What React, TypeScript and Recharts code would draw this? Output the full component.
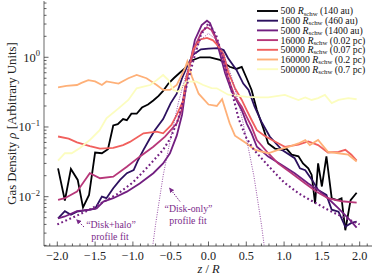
import React from 'react';
import { LineChart, Line, XAxis, YAxis } from 'recharts';

type P = [number, number];

// ---- data: [z/R, density] ----
const rho500: P[] = [
  [-1.99, 0.0255], [-1.9, 0.0088], [-1.82, 0.025], [-1.73, 0.0174], [-1.66, 0.007], [-1.58, 0.0106],
  [-1.5, 0.043], [-1.41, 0.042], [-1.33, 0.048], [-1.26, 0.105], [-1.2, 0.11], [-1.13, 0.13],
  [-1.08, 0.125], [-1.02, 0.155], [-0.95, 0.155], [-0.88, 0.19], [-0.8, 0.21], [-0.73, 0.24],
  [-0.66, 0.28], [-0.6, 0.33], [-0.53, 0.42], [-0.46, 0.5], [-0.38, 0.6], [-0.31, 0.7],
  [-0.22, 0.9], [-0.11, 1.0], [0.02, 1.0], [0.15, 0.92], [0.28, 0.73], [0.37, 0.68],
  [0.44, 0.73], [0.505, 0.5], [0.57, 0.34], [0.64, 0.175], [0.725, 0.096], [0.79, 0.058],
  [0.88, 0.049], [0.97, 0.047], [1.03, 0.049], [1.1, 0.04], [1.19, 0.038], [1.25, 0.03],
  [1.32, 0.0255], [1.365, 0.0205], [1.41, 0.008], [1.45, 0.03], [1.5, 0.014], [1.56, 0.038],
  [1.63, 0.0095], [1.7, 0.0089], [1.76, 0.0095], [1.81, 0.0033], [1.88, 0.0089], [1.96, 0.0114],
];
const rho1600: P[] = [
  [-1.99, 0.0049], [-1.9, 0.0062], [-1.82, 0.0055], [-1.74, 0.0061], [-1.57, 0.0065], [-1.5, 0.0067],
  [-1.41, 0.01], [-1.35, 0.0095], [-1.26, 0.0132], [-1.17, 0.0174], [-1.08, 0.0217], [-0.99, 0.024],
  [-0.93, 0.0336], [-0.86, 0.047], [-0.77, 0.07], [-0.71, 0.09], [-0.6, 0.13], [-0.5, 0.22],
  [-0.42, 0.3], [-0.35, 0.5], [-0.27, 0.8], [-0.2, 1.1], [-0.1, 1.3], [0.0, 1.33], [0.13, 1.35],
  [0.2, 1.27], [0.26, 0.97], [0.37, 0.66], [0.46, 0.42], [0.53, 0.34], [0.61, 0.195], [0.7, 0.119],
  [0.81, 0.073], [0.97, 0.047], [1.14, 0.0356], [1.21, 0.0255], [1.28, 0.024], [1.37, 0.0174],
  [1.45, 0.0125], [1.56, 0.0106], [1.63, 0.0065], [1.72, 0.0061], [1.81, 0.0037], [1.89, 0.0042],
  [1.96, 0.0044],
];
const rho5000: P[] = [
  [-1.99, 0.0049], [-1.9, 0.0052], [-1.74, 0.0062], [-1.57, 0.0065], [-1.48, 0.0068], [-1.39, 0.0085],
  [-1.26, 0.0095], [-1.08, 0.0118], [-0.91, 0.0155], [-0.73, 0.0217], [-0.6, 0.03], [-0.51, 0.042],
  [-0.42, 0.075], [-0.35, 0.15], [-0.27, 0.6], [-0.18, 1.77], [-0.09, 2.9], [-0.02, 3.35],
  [0.02, 3.1], [0.09, 1.97], [0.15, 1.14], [0.22, 0.59], [0.31, 0.32], [0.39, 0.22], [0.44, 0.175],
  [0.505, 0.113], [0.57, 0.081], [0.64, 0.052], [0.79, 0.0376], [0.97, 0.0285], [1.14, 0.0217],
  [1.32, 0.0155], [1.45, 0.0125], [1.58, 0.0095], [1.72, 0.0068], [1.85, 0.0049], [1.96, 0.0036],
];
const rho16000: P[] = [
  [-1.99, 0.009], [-1.9, 0.0095], [-1.74, 0.0118], [-1.57, 0.0217], [-1.435, 0.0184], [-1.26, 0.0194],
  [-1.08, 0.0269], [-0.91, 0.0375], [-0.73, 0.052], [-0.575, 0.0726], [-0.42, 0.113], [-0.355, 0.175],
  [-0.29, 0.53], [-0.18, 1.42], [-0.09, 2.33], [-0.02, 2.69], [0.04, 2.46], [0.13, 1.59], [0.2, 0.915],
  [0.26, 0.5], [0.35, 0.27], [0.44, 0.195], [0.505, 0.14], [0.57, 0.101], [0.64, 0.065], [0.79, 0.042],
  [0.92, 0.03], [1.1, 0.0217], [1.28, 0.0155], [1.43, 0.0118], [1.58, 0.0095], [1.76, 0.0086],
  [1.96, 0.0082],
];
const rho50000: P[] = [
  [-1.99, 0.073], [-1.85, 0.068], [-1.74, 0.06], [-1.57, 0.053], [-1.435, 0.049], [-1.26, 0.05],
  [-1.13, 0.055], [-1.04, 0.061], [-0.86, 0.081], [-0.685, 0.086], [-0.6, 0.081], [-0.49, 0.107],
  [-0.42, 0.149], [-0.33, 0.244], [-0.29, 0.5], [-0.2, 1.3], [-0.11, 1.8], [-0.02, 1.9], [0.06, 1.75],
  [0.13, 1.45], [0.2, 1.1], [0.26, 0.62], [0.35, 0.36], [0.44, 0.244], [0.505, 0.175], [0.57, 0.126],
  [0.64, 0.09], [0.74, 0.075], [0.84, 0.065], [1.01, 0.052], [1.19, 0.056], [1.32, 0.062],
  [1.45, 0.055], [1.58, 0.043], [1.72, 0.044], [1.81, 0.047], [1.89, 0.04], [1.96, 0.033],
];
const rho160000: P[] = [
  [-1.99, 0.37], [-1.88, 0.39], [-1.74, 0.4], [-1.68, 0.43], [-1.59, 0.47], [-1.5, 0.45], [-1.41, 0.4],
  [-1.35, 0.45], [-1.19, 0.42], [-1.06, 0.5], [-0.95, 0.557], [-0.82, 0.5], [-0.685, 0.4], [-0.6, 0.34],
  [-0.51, 0.34], [-0.42, 0.4], [-0.31, 0.7], [-0.28, 0.87], [-0.22, 0.53], [-0.13, 0.3], [0.0, 0.21],
  [0.11, 0.2], [0.18, 0.25], [0.28, 0.113], [0.35, 0.075], [0.505, 0.058], [0.615, 0.047], [0.79, 0.042],
  [0.92, 0.047], [1.06, 0.052], [1.19, 0.058], [1.28, 0.065], [1.34, 0.055], [1.45, 0.065], [1.58, 0.044],
  [1.72, 0.042], [1.85, 0.04], [1.96, 0.032],
];
const rho500000: P[] = [
  [-1.99, 0.033], [-1.9, 0.042], [-1.81, 0.042], [-1.7, 0.05], [-1.57, 0.065], [-1.44, 0.09],
  [-1.35, 0.133], [-1.19, 0.185], [-1.06, 0.244], [-0.95, 0.359], [-0.86, 0.38], [-0.77, 0.4],
  [-0.685, 0.47], [-0.6, 0.557], [-0.53, 0.47], [-0.465, 0.34], [-0.4, 0.32], [-0.29, 0.447],
  [-0.16, 0.447], [-0.07, 0.4], [0.04, 0.36], [0.11, 0.359], [0.26, 0.29], [0.505, 0.27], [0.68, 0.266],
  [0.79, 0.266], [1.01, 0.288], [1.19, 0.244], [1.28, 0.266], [1.365, 0.244], [1.45, 0.26], [1.54, 0.288],
  [1.63, 0.22], [1.72, 0.244], [1.85, 0.26], [1.96, 0.25],
];
const fitDiskHalo: P[] = [
  [-2.0, 0.004], [-1.8, 0.005], [-1.6, 0.0063], [-1.4, 0.0083], [-1.2, 0.011], [-1.0, 0.016],
  [-0.8, 0.027], [-0.6, 0.047], [-0.5, 0.07], [-0.4, 0.13], [-0.3, 0.35], [-0.2, 0.9], [-0.1, 2.1],
  [0.0, 3.1], [0.1, 2.1], [0.2, 0.9], [0.3, 0.35], [0.4, 0.13], [0.5, 0.07], [0.6, 0.047], [0.8, 0.027],
  [1.0, 0.016], [1.2, 0.011], [1.4, 0.0083], [1.6, 0.0063], [1.8, 0.005], [2.0, 0.004],
];
const fitDiskOnly: P[] = [
  [-0.8, 0.0006], [-0.7, 0.004], [-0.6, 0.02], [-0.5, 0.07], [-0.4, 0.22], [-0.3, 0.55], [-0.2, 1.1],
  [-0.1, 1.8], [0.0, 2.2], [0.1, 1.8], [0.2, 1.1], [0.3, 0.55], [0.4, 0.22], [0.5, 0.07], [0.6, 0.02],
  [0.7, 0.004], [0.8, 0.0006],
];

const seriesNumbers = ['500', '1600', '5000', '16000', '50000', '160000', '500000'];
const seriesScales = ['(140 au)', '(460 au)', '(1400 au)', '(0.02 pc)', '(0.07 pc)', '(0.2 pc)', '(0.7 pc)'];
const seriesColors = ['#000004', '#2c115f', '#721f81', '#b73779', '#f1605d', '#feb078', '#fcfdbf'];
const seriesData = [rho500, rho1600, rho5000, rho16000, rho50000, rho160000, rho500000];

const xMajorTicks = [-2, -1.5, -1, -0.5, 0, 0.5, 1, 1.5, 2];
const yMajorTicks = [0.01, 0.1, 1];
const yTickExponents = ['−2', '−1', '0'];

// ---- layout ----
const W = 374;
const H = 276;
const X_DOMAIN: [number, number] = [-2.176, 2.163];
const Y_DOMAIN: [number, number] = [0.00196, 6.42];
const FRAME = '#8c8c8c';
const TICK = '#3a3a3a';
const FONT = "'Liberation Serif', 'Times New Roman', serif";
const ANNOT = '#7b2b8a';

const xTicks: number[] = [];
for (let i = -21; i <= 21; i++) xTicks.push(i / 10);
const yTicks: number[] = [];
for (let e = -3; e <= 0; e++) for (let m = 1; m <= 9; m++) {
  const v = m * Math.pow(10, e);
  if (v >= Y_DOMAIN[0] && v <= Y_DOMAIN[1]) yTicks.push(Number(v.toPrecision(3)));
}

const isMajorX = (v: number) => xMajorTicks.some((t) => Math.abs(t - v) < 1e-6);
const isMajorY = (v: number) => yMajorTicks.some((t) => Math.abs(t - v) / t < 1e-6);
const fmtX = (v: number) => (v < -1e-9 ? '−' : '') + Math.abs(v).toFixed(1);

const toRows = (pts: P[]) => pts.map(([z, rho]) => ({ z, rho }));

const XTickBottom = (p: any) => {
  const v = p.payload.value;
  const major = isMajorX(v);
  return (
    <g>
      <line x1={p.x} x2={p.x} y1={p.y} y2={p.y - (major ? 4.5 : 2.5)} stroke={TICK} strokeWidth={0.8} />
      {major && (
        <text x={p.x} y={p.y + 14} textAnchor="middle" fontFamily={FONT} fontSize={12.2} fill="#222">
          {fmtX(v)}
        </text>
      )}
    </g>
  );
};
const XTickTop = (p: any) => {
  const v = p.payload.value;
  const major = isMajorX(v);
  return <line x1={p.x} x2={p.x} y1={p.y} y2={p.y + (major ? 4.5 : 2.5)} stroke={TICK} strokeWidth={0.8} />;
};
const YTickLeft = (p: any) => {
  const v = p.payload.value;
  const major = isMajorY(v);
  const idx = yMajorTicks.findIndex((t) => Math.abs(t - v) / t < 1e-6);
  return (
    <g>
      <line x1={p.x} x2={p.x + (major ? 4.5 : 2.5)} y1={p.y} y2={p.y} stroke={TICK} strokeWidth={0.8} />
      {major && (
        <text x={p.x - 4} y={p.y + 4.5} textAnchor="end" fontFamily={FONT} fontSize={12.5} fill="#222">
          <tspan>10</tspan>
          <tspan dy={-5.5} fontSize={8.5}>{yTickExponents[idx]}</tspan>
        </text>
      )}
    </g>
  );
};
const YTickRight = (p: any) => {
  const v = p.payload.value;
  const major = isMajorY(v);
  return <line x1={p.x} x2={p.x - (major ? 4.5 : 2.5)} y1={p.y} y2={p.y} stroke={TICK} strokeWidth={0.8} />;
};

const legendTop = 11;
const legendStep = 9.7;

export default function App() {
  return (
    <div style={{ position: 'absolute', left: 0, top: 0, width: W, height: H, background: '#fff' }}>
      <LineChart width={W} height={H} margin={{ top: 1, right: 2, bottom: 0, left: 0 }}>
        <XAxis
          xAxisId="b" dataKey="z" type="number" domain={X_DOMAIN} allowDataOverflow ticks={xTicks}
          interval={0} height={30} tickLine={false} tickSize={0} tickMargin={0}
          axisLine={{ stroke: FRAME, strokeWidth: 1.3 }} tick={(p: any) => <XTickBottom {...p} />}
        />
        <XAxis
          xAxisId="t" orientation="top" type="number" domain={X_DOMAIN} allowDataOverflow ticks={xTicks}
          interval={0} height={0} tickLine={false} tickSize={0} tickMargin={0}
          axisLine={{ stroke: FRAME, strokeWidth: 1.3 }} tick={(p: any) => <XTickTop {...p} />}
        />
        <YAxis
          yAxisId="l" type="number" scale="log" domain={Y_DOMAIN} allowDataOverflow ticks={yTicks}
          interval={0} width={44} tickLine={false} tickSize={0} tickMargin={0}
          axisLine={{ stroke: FRAME, strokeWidth: 1.3 }} tick={(p: any) => <YTickLeft {...p} />}
        />
        <YAxis
          yAxisId="r" orientation="right" type="number" scale="log" domain={Y_DOMAIN} allowDataOverflow
          ticks={yTicks} interval={0} width={0} tickLine={false} tickSize={0} tickMargin={0}
          axisLine={{ stroke: FRAME, strokeWidth: 1.3 }} tick={(p: any) => <YTickRight {...p} />}
        />
        {seriesData.map((d, i) => (
          <Line
            key={seriesNumbers[i]} xAxisId="b" yAxisId="l" data={toRows(d)} dataKey="rho" type="linear"
            stroke={seriesColors[i]} strokeWidth={1.8} dot={false} activeDot={false} isAnimationActive={false}
          />
        ))}
        <Line
          xAxisId="b" yAxisId="l" data={toRows(fitDiskHalo)} dataKey="rho" type="linear" stroke="#721f81"
          strokeWidth={2.1} strokeDasharray="1.8 2.6" dot={false} activeDot={false} isAnimationActive={false}
        />
        <Line
          xAxisId="b" yAxisId="l" data={toRows(fitDiskOnly)} dataKey="rho" type="linear" stroke="#8a3a9a"
          strokeWidth={0.9} strokeDasharray="1 1.4" dot={false} activeDot={false} isAnimationActive={false}
        />
      </LineChart>
      <svg
        width={W} height={H}
        style={{ position: 'absolute', left: 0, top: 0, pointerEvents: 'none' }}
        fontFamily={FONT}
      >
        <defs>
          <marker id="ah" viewBox="0 0 10 10" refX="9" refY="5" markerWidth="5" markerHeight="5" orient="auto-start-reverse">
            <path d="M0,0 L10,5 L0,10 z" fill={ANNOT} />
          </marker>
        </defs>
        {/* legend */}
        {seriesNumbers.map((n, i) => {
          const cy = legendTop + i * legendStep;
          return (
            <g key={n}>
              <line x1={257} x2={278} y1={cy} y2={cy} stroke={seriesColors[i]} strokeWidth={1.9} />
              <text x={280.5} y={cy + 3.4} fontSize={9.8} fill="#111">
                {n + ' '}
                <tspan fontStyle="italic">R</tspan>
                <tspan fontSize={6.8} dy={1.1}>schw</tspan>
                <tspan dy={-1.1}>{' ' + seriesScales[i]}</tspan>
              </text>
            </g>
          );
        })}
        {/* axis labels */}
        <text transform="translate(15.5,123.5) rotate(-90)" textAnchor="middle" fontSize={12.8} fill="#222">
          Gas Density <tspan fontStyle="italic">ρ</tspan> [Arbitrary Units]
        </text>
        <text x={208.5} y={272.5} textAnchor="middle" fontSize={12.5} fill="#222">
          <tspan fontStyle="italic">z</tspan> / <tspan fontStyle="italic">R</tspan>
        </text>
        {/* annotations */}
        <text x={111} y={228} textAnchor="middle" fontSize={9.8} fill={ANNOT}>“Disk+halo”</text>
        <text x={110} y={239.5} textAnchor="middle" fontSize={9.8} fill={ANNOT}>profile fit</text>
        <line x1={84} y1={227} x2={76.5} y2={219.5} stroke={ANNOT} strokeWidth={1} strokeDasharray="1.5 1.2" markerEnd="url(#ah)" />
        <text x={188.5} y={212} textAnchor="middle" fontSize={9.8} fill={ANNOT}>“Disk-only”</text>
        <text x={188} y={224} textAnchor="middle" fontSize={9.8} fill={ANNOT}>profile fit</text>
        <line x1={180} y1={201.5} x2={169.5} y2={188} stroke={ANNOT} strokeWidth={1} strokeDasharray="1.5 1.2" markerEnd="url(#ah)" />
      </svg>
    </div>
  );
}
